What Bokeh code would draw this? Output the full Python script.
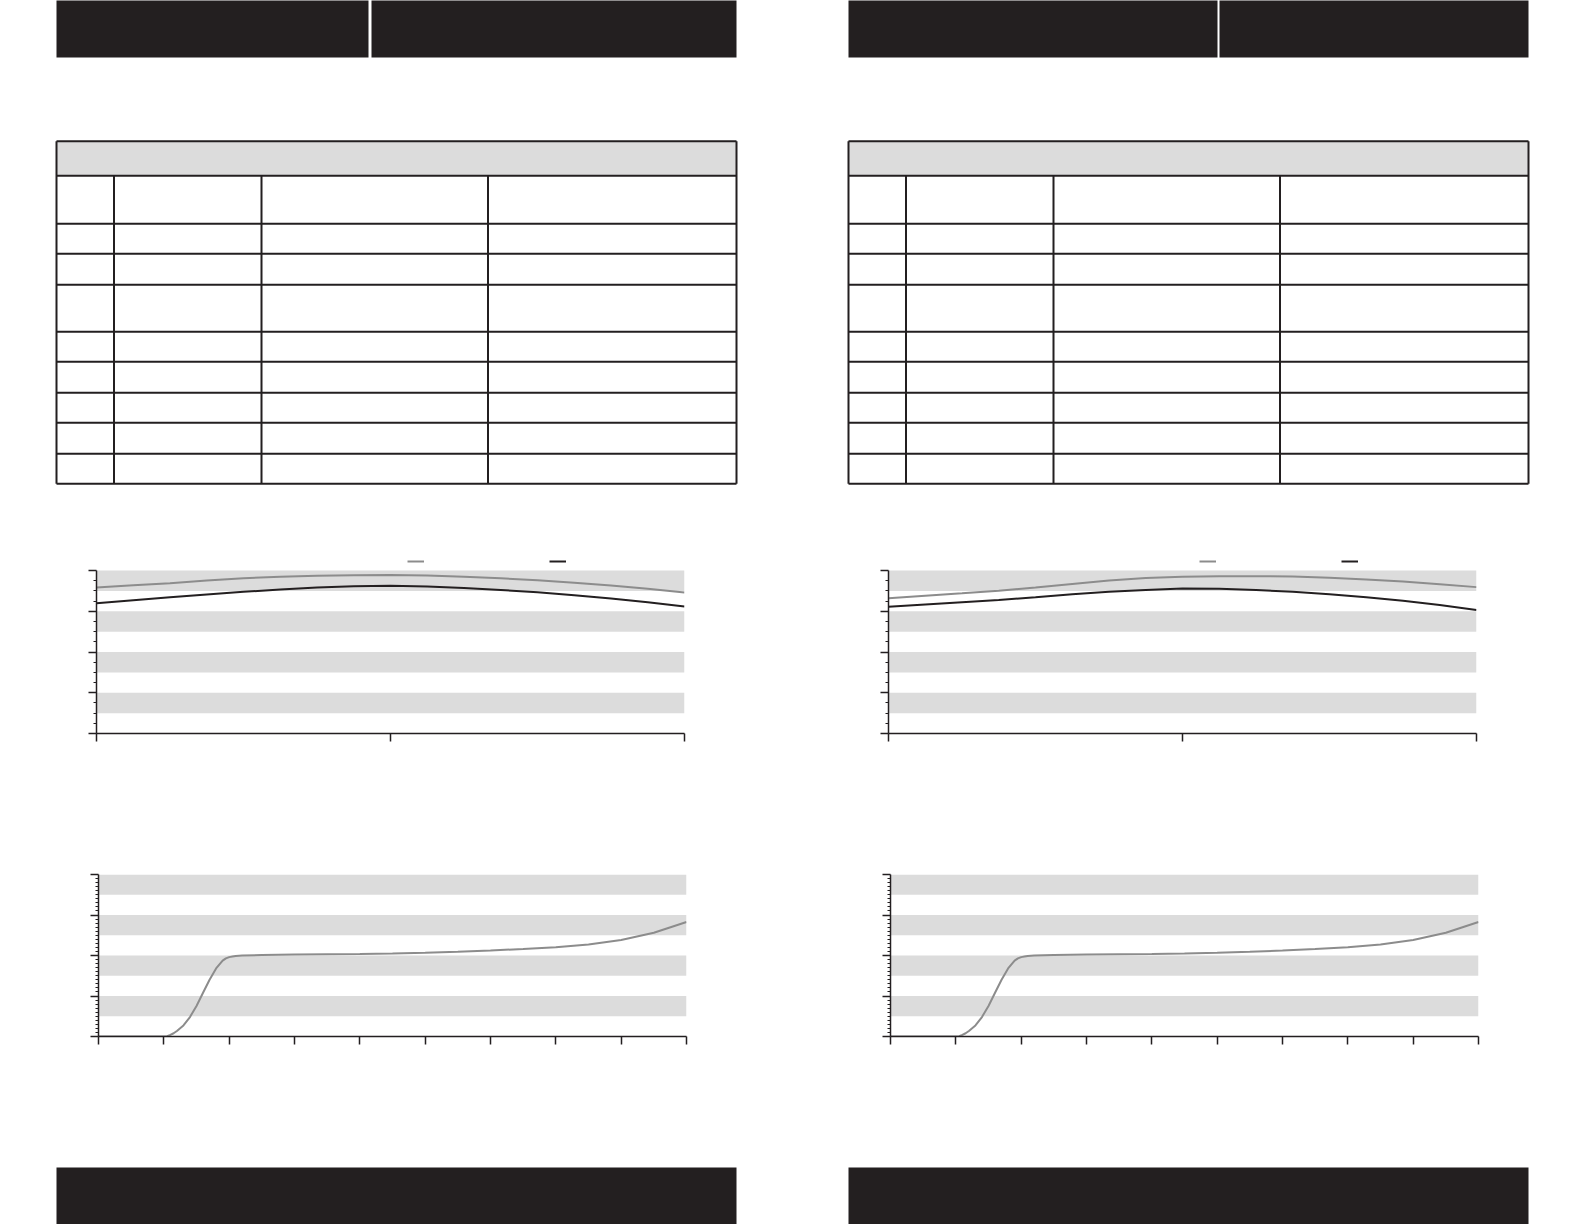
from bokeh.plotting import figure
from bokeh.layouts import column, row
from bokeh.models import (Range1d, FixedTicker, BoxAnnotation, Legend, LegendItem,
                          Spacer, CustomJSTickFormatter)
from bokeh.embed import file_html
from bokeh.resources import INLINE

# ---------------- data ----------------
# chart 1 (two curves, x ticks 0..2)
c1_x = [0, 0.125, 0.25, 0.375, 0.5, 0.625, 0.75, 0.875, 1.0,
        1.125, 1.25, 1.375, 1.5, 1.625, 1.75, 1.875, 2.0]
c1_gray_left = [89.6, 90.9, 92.2, 93.9, 95.3, 96.2, 96.8, 97.1, 97.2,
                96.9, 96.2, 95.2, 94.0, 92.5, 90.8, 88.8, 86.5]
c1_black_left = [79.9, 81.8, 83.6, 85.3, 86.9, 88.3, 89.6, 90.4, 90.6,
                 90.2, 89.3, 88.1, 86.6, 84.8, 82.8, 80.5, 77.9]
c1_gray_right = [83.0, 84.5, 86.0, 87.6, 89.6, 91.7, 93.8, 95.4, 96.2,
                 96.5, 96.5, 96.3, 95.6, 94.5, 93.2, 91.6, 89.8]
c1_black_right = [77.7, 79.1, 80.5, 81.9, 83.6, 85.4, 86.9, 88.1, 88.9,
                  88.8, 88.0, 86.9, 85.5, 83.6, 81.5, 78.8, 75.7]
c1_xticks = [0, 1, 2]

# chart 2 (one curve, x ticks 0..9)
c2_x = [0, 1.0, 1.05, 1.1, 1.15, 1.2, 1.3, 1.4, 1.5, 1.6, 1.7, 1.8, 1.9, 1.95, 2.0,
        2.05, 2.1, 2.2, 2.5, 3, 3.5, 4, 4.5, 5, 5.5, 6, 6.5, 7, 7.5, 8, 8.5, 9]
c2_y = [0, 0, 0.2, 1.0, 2.0, 3.4, 6.8, 12.0, 18.8, 27.0, 35.0, 42.0, 46.8, 48.2, 49.0,
        49.4, 49.7, 50.0, 50.3, 50.6, 50.8, 51.0, 51.3, 51.7, 52.3, 53.1, 54.0, 55.1,
        56.8, 59.6, 64.0, 70.7]
c2_xticks = [0, 1, 2, 3, 4, 5, 6, 7, 8, 9]

y_major = [0, 25, 50, 75, 100]
c1_y_minor = [v for v in [6.25 * i for i in range(17)] if v not in y_major]
c2_y_minor = [v for v in [2.5 * i for i in range(41)] if v not in y_major]

# ---------------- styles / layout ----------------
INK = "#231f20"
BAND = "#dcdcdc"
GRAY = "#8c8c8c"

PAGE_X = [56, 848]
PAGE_W = 680
HEADER_SPLIT = [(312, 315), (369, 371)]
TABLE_COLS = [0, 57.5, 205, 431.5, 680]
TABLE_ROWS = [140.7, 175.3, 223.3, 253.3, 284.3, 331.3, 361.3, 392.3, 422.3, 453.3, 483.3]
FOOTER_TOP = 1167
FULL_W = 1576


def deco_fig(y_top, y_bottom):
    p = figure(width=FULL_W, height=y_bottom - y_top, x_range=Range1d(0, FULL_W),
               y_range=Range1d(y_bottom, y_top), output_backend="svg",
               toolbar_location=None, x_axis_location=None, y_axis_location=None,
               min_border=0, outline_line_color=None)
    p.xgrid.visible = False
    p.ygrid.visible = False
    return p


top = deco_fig(0, 540)
for px, (s0, s1) in zip(PAGE_X, HEADER_SPLIT):
    top.quad(left=[px, px + s1], right=[px + s0, px + PAGE_W], top=[-5, -5], bottom=[57, 57],
             fill_color=INK, line_color=None)
    # table header fill
    top.quad(left=[px], right=[px + PAGE_W], top=[TABLE_ROWS[0]], bottom=[TABLE_ROWS[1]],
             fill_color=BAND, line_color=None)
    # horizontal rules
    top.segment(x0=[px] * len(TABLE_ROWS), x1=[px + PAGE_W] * len(TABLE_ROWS),
                y0=TABLE_ROWS, y1=TABLE_ROWS, line_color=INK, line_width=2)
    # outer verticals
    top.segment(x0=[px, px + PAGE_W], x1=[px, px + PAGE_W], y0=[TABLE_ROWS[0]] * 2,
                y1=[TABLE_ROWS[-1]] * 2, line_color=INK, line_width=2)
    # inner verticals
    inner = TABLE_COLS[1:-1]
    top.segment(x0=[px + c for c in inner], x1=[px + c for c in inner],
                y0=[TABLE_ROWS[1]] * len(inner), y1=[TABLE_ROWS[-1]] * len(inner),
                line_color=INK, line_width=2)

bottom = deco_fig(1060, 1224)
for px in PAGE_X:
    bottom.quad(left=[px], right=[px + PAGE_W], top=[FOOTER_TOP], bottom=[1240],
                fill_color=INK, line_color=None)


def chart(x_end, x_ticks, y_minor, border_left, border_top, border_bottom, extra_px):
    frame_h = 260 - border_top - border_bottom
    data_px = frame_h - extra_px
    y_end = 100.0 * frame_h / data_px
    p = figure(width=PAGE_W, height=260, x_range=Range1d(0, x_end),
               y_range=Range1d(0, y_end), output_backend="svg", toolbar_location=None,
               min_border_left=border_left, min_border_right=PAGE_W - border_left - 588,
               min_border_top=border_top, min_border_bottom=border_bottom,
               outline_line_color=None)
    p.xgrid.visible = False
    p.ygrid.visible = False
    step = y_major[1] - y_major[0]
    for t in y_major[:-1]:
        p.add_layout(BoxAnnotation(bottom=t + step / 2, top=t + step, fill_color=BAND,
                                   fill_alpha=1, line_color=None, level="underlay"))
    p.xaxis.ticker = FixedTicker(ticks=x_ticks, minor_ticks=[])
    p.yaxis.ticker = FixedTicker(ticks=y_major, minor_ticks=y_minor)
    p.xaxis.bounds = (0, x_end)
    p.yaxis.bounds = (0, 100)
    for ax in (p.xaxis[0], p.yaxis[0]):
        ax.formatter = CustomJSTickFormatter(code="return ''")
        ax.major_label_standoff = 0
        ax.axis_line_color = INK
        ax.axis_line_width = 1.5
        ax.major_tick_line_color = INK
        ax.major_tick_line_width = 1.5
        ax.major_tick_out = 8
        ax.major_tick_in = 0
        ax.minor_tick_line_color = INK
        ax.minor_tick_line_width = 1
        ax.minor_tick_out = 3
        ax.minor_tick_in = 0
    return p


def chart1(gray, black):
    p = chart(2, c1_xticks, c1_y_minor, 40, 10, 67, 20)
    rg = p.line(c1_x, gray, line_color=GRAY, line_width=2)
    rb = p.line(c1_x, black, line_color=INK, line_width=2)
    for r, xloc in ((rg, 311), (rb, 453)):
        lg = Legend(items=[LegendItem(label=" ", renderers=[r])], location=(xloc, 170),
                    orientation="horizontal", glyph_width=17, glyph_height=4,
                    label_height=4, label_width=0, padding=0, margin=0, spacing=0,
                    label_standoff=0, border_line_color=None, background_fill_alpha=0,
                    label_text_font_size="1px")
        p.add_layout(lg)
    return p


def chart2():
    p = chart(9, c2_xticks, c2_y_minor, 42, 74, 24, 0)
    p.line(c2_x, c2_y, line_color=GRAY, line_width=2)
    return p


layout = column(
    top,
    row(Spacer(width=56, height=260), chart1(c1_gray_left, c1_black_left),
        Spacer(width=112, height=260), chart1(c1_gray_right, c1_black_right)),
    row(Spacer(width=56, height=260), chart2(),
        Spacer(width=112, height=260), chart2()),
    bottom,
)

open("out.html", "w").write(file_html(layout, INLINE))
